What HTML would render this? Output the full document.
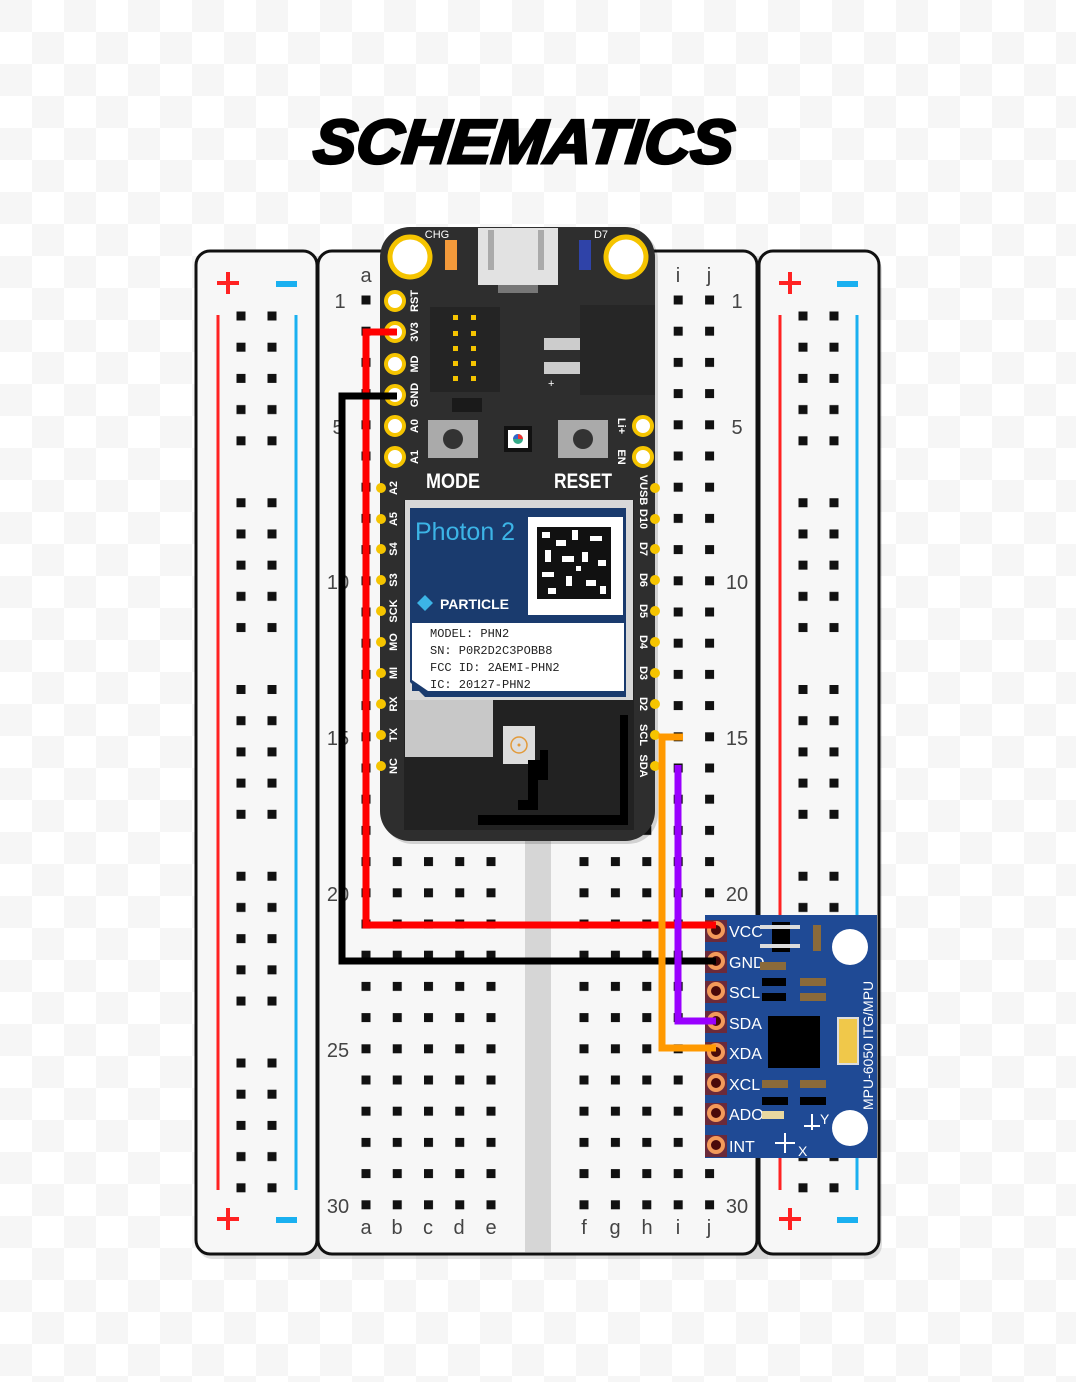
<!DOCTYPE html>
<html><head><meta charset="utf-8"><style>
html,body{margin:0;padding:0;background:#fff}
svg{display:block}
</style></head><body>
<svg width="1076" height="1382" viewBox="0 0 1076 1382" xmlns="http://www.w3.org/2000/svg" font-family="Liberation Sans, sans-serif">
<defs>
<pattern id="chk" x="0" y="0" width="64" height="64" patternUnits="userSpaceOnUse">
<rect width="64" height="64" fill="#ffffff"/><rect width="32" height="32" fill="#f6f6f6"/><rect x="32" y="32" width="32" height="32" fill="#f6f6f6"/>
</pattern>
<pattern id="holeL" x="361.5" y="295.5" width="31.25" height="31.2" patternUnits="userSpaceOnUse"><rect width="9" height="9" fill="#111"/></pattern>
<pattern id="holeR" x="579.5" y="295.5" width="31.4" height="31.2" patternUnits="userSpaceOnUse"><rect width="9" height="9" fill="#111"/></pattern>
<pattern id="rail" x="0" y="311.5" width="400" height="186.75" patternUnits="userSpaceOnUse">
<rect x="0" y="0" width="9" height="9" fill="#111"/><rect x="0" y="31.2" width="9" height="9" fill="#111"/><rect x="0" y="62.4" width="9" height="9" fill="#111"/><rect x="0" y="93.6" width="9" height="9" fill="#111"/><rect x="0" y="124.8" width="9" height="9" fill="#111"/>
</pattern>
</defs>
<rect width="1076" height="1382" fill="url(#chk)"/>

<text x="523" y="163" text-anchor="middle" font-size="62" font-weight="bold" font-style="italic" textLength="420" lengthAdjust="spacingAndGlyphs" stroke="#000" stroke-width="3" fill="#000" transform="skewX(-6) translate(16,0)">SCHEMATICS</text>

<!-- shadows -->
<rect x="198" y="256" width="684" height="1003" rx="14" fill="#000" opacity="0.12"/>
<!-- left rail -->
<rect x="196" y="251" width="121" height="1003" rx="14" fill="#f7f7f7" stroke="#111" stroke-width="3"/>
<rect x="318" y="251" width="439" height="1003" rx="14" fill="#f7f7f7" stroke="#111" stroke-width="3"/>
<rect x="759" y="251" width="120" height="1003" rx="14" fill="#f7f7f7" stroke="#111" stroke-width="3"/>

<!-- rails -->
<line x1="218" y1="315" x2="218" y2="1190" stroke="#f22" stroke-width="3"/>
<line x1="296" y1="315" x2="296" y2="1190" stroke="#1ab0f0" stroke-width="3"/>
<line x1="780" y1="315" x2="780" y2="1190" stroke="#f22" stroke-width="3"/>
<line x1="857" y1="315" x2="857" y2="1190" stroke="#1ab0f0" stroke-width="3"/>
<g stroke-width="4" stroke-linecap="butt">
<path d="M217 283h22M228 272v22" stroke="#f22"/><path d="M217 1219h22M228 1208v22" stroke="#f22"/>
<path d="M276 284h21" stroke="#1ab0f0" stroke-width="6"/><path d="M276 1220h21" stroke="#1ab0f0" stroke-width="6"/>
<path d="M779 283h22M790 272v22" stroke="#f22"/><path d="M779 1219h22M790 1208v22" stroke="#f22"/>
<path d="M837 284h21" stroke="#1ab0f0" stroke-width="6"/><path d="M837 1220h21" stroke="#1ab0f0" stroke-width="6"/>
</g>
<g fill="url(#rail)">
<rect x="237" y="311" width="9" height="885" transform="translate(0,0)"/>
</g>
<g>
<rect x="236.5" y="311.5" width="40" height="885" fill="url(#rail)" style="transform:none"/>
</g>
<!-- rail holes with explicit patterns per column -->
<pattern id="railA" x="236.5" y="311.5" width="31" height="186.75" patternUnits="userSpaceOnUse">
<rect x="0" y="0" width="9" height="9" fill="#111"/><rect x="0" y="31.2" width="9" height="9" fill="#111"/><rect x="0" y="62.4" width="9" height="9" fill="#111"/><rect x="0" y="93.6" width="9" height="9" fill="#111"/><rect x="0" y="124.8" width="9" height="9" fill="#111"/>
</pattern>
<pattern id="railB" x="798.5" y="311.5" width="31" height="186.75" patternUnits="userSpaceOnUse">
<rect x="0" y="0" width="9" height="9" fill="#111"/><rect x="0" y="31.2" width="9" height="9" fill="#111"/><rect x="0" y="62.4" width="9" height="9" fill="#111"/><rect x="0" y="93.6" width="9" height="9" fill="#111"/><rect x="0" y="124.8" width="9" height="9" fill="#111"/>
</pattern>
<rect x="230" y="305" width="60" height="890" fill="#f7f7f7"/>
<line x1="296" y1="315" x2="296" y2="1190" stroke="#1ab0f0" stroke-width="3"/>
<rect x="236.5" y="311.5" width="41" height="885" fill="url(#railA)"/>
<rect x="798.5" y="311.5" width="41" height="885" fill="url(#railB)"/>

<!-- channel -->
<rect x="525" y="253" width="26" height="999" fill="#d6d6d6"/>
<!-- main holes -->
<rect x="361.5" y="295.5" width="135" height="918" fill="url(#holeL)"/>
<rect x="579.5" y="295.5" width="135" height="918" fill="url(#holeR)"/>

<!-- labels -->
<g fill="#444" font-size="20" text-anchor="middle">
<text x="366" y="282">a</text><text x="678" y="282">i</text><text x="709" y="282">j</text>
<text x="340" y="308">1</text><text x="338" y="434">5</text><text x="338" y="589">10</text><text x="338" y="745">15</text><text x="338" y="901">20</text><text x="338" y="1057">25</text><text x="338" y="1213">30</text>
<text x="737" y="308">1</text><text x="737" y="434">5</text><text x="737" y="589">10</text><text x="737" y="745">15</text><text x="737" y="901">20</text><text x="737" y="1213">30</text>
<text x="366" y="1234">a</text><text x="397" y="1234">b</text><text x="428" y="1234">c</text><text x="459" y="1234">d</text><text x="491" y="1234">e</text>
<text x="584" y="1234">f</text><text x="615" y="1234">g</text><text x="647" y="1234">h</text><text x="678" y="1234">i</text><text x="709" y="1234">j</text>
</g>

<!-- Photon board -->
<rect x="383" y="230" width="275" height="614" rx="30" fill="#000" opacity="0.15"/>
<rect x="380" y="227" width="275" height="614" rx="30" fill="#2e2e2e"/>
<rect x="478" y="228" width="80" height="57" fill="#e2e2e2"/>
<rect x="488" y="230" width="6" height="40" fill="#aaa"/><rect x="538" y="230" width="6" height="40" fill="#aaa"/>
<rect x="498" y="285" width="40" height="8" fill="#777"/>
<rect x="445" y="240" width="12" height="30" fill="#f39a3b"/>
<rect x="579" y="240" width="12" height="30" fill="#2f43a8"/>
<text x="437" y="238" fill="#fff" font-size="11" text-anchor="middle">CHG</text>
<text x="601" y="238" fill="#fff" font-size="11" text-anchor="middle">D7</text>
<circle cx="410" cy="257" r="20" fill="#fff" stroke="#f5c400" stroke-width="5"/>
<circle cx="626" cy="257" r="20" fill="#fff" stroke="#f5c400" stroke-width="5"/>
<rect x="430" y="307" width="70" height="85" fill="#242424"/>
<g fill="#f5c400"><rect x="453" y="315" width="5" height="5"/><rect x="471" y="315" width="5" height="5"/><rect x="453" y="331" width="5" height="5"/><rect x="471" y="331" width="5" height="5"/><rect x="453" y="346" width="5" height="5"/><rect x="471" y="346" width="5" height="5"/><rect x="453" y="361" width="5" height="5"/><rect x="471" y="361" width="5" height="5"/><rect x="453" y="376" width="5" height="5"/><rect x="471" y="376" width="5" height="5"/></g>
<rect x="580" y="305" width="75" height="90" fill="#262626"/>
<rect x="544" y="338" width="36" height="12" fill="#ccc"/><rect x="544" y="362" width="36" height="12" fill="#ccc"/>
<text x="548" y="387" fill="#fff" font-size="11">+</text>
<rect x="452" y="398" width="30" height="14" fill="#1a1a1a"/>
<rect x="428" y="420" width="50" height="38" fill="#aaa"/><circle cx="453" cy="439" r="10" fill="#333"/>
<rect x="558" y="420" width="50" height="38" fill="#aaa"/><circle cx="583" cy="439" r="10" fill="#333"/>
<rect x="504" y="426" width="28" height="26" fill="#111"/><rect x="508" y="430" width="20" height="18" fill="#fff"/><circle cx="518" cy="439" r="5" fill="#3a8"/><path d="M518 439 l0 -5 a5 5 0 0 1 5 5z" fill="#e33"/><path d="M518 439 l-5 0 a5 5 0 0 1 5 -5z" fill="#36c"/>
<text x="453" y="488" fill="#fff" font-size="21" font-weight="bold" text-anchor="middle" textLength="54" lengthAdjust="spacingAndGlyphs">MODE</text>
<text x="583" y="488" fill="#fff" font-size="21" font-weight="bold" text-anchor="middle" textLength="58" lengthAdjust="spacingAndGlyphs">RESET</text>

<!-- module -->
<rect x="404" y="500" width="230" height="330" fill="#222"/>
<rect x="405" y="500" width="228" height="200" fill="#d8d8d8"/>
<path d="M410 508 H626 V697 H425 L410 682 Z" fill="#1a3b6e"/>
<rect x="528" y="517" width="95" height="98" fill="#fff"/>
<rect x="537" y="527" width="74" height="72" fill="#111"/>
<g fill="#fff"><rect x="542" y="532" width="8" height="6"/><rect x="556" y="540" width="10" height="6"/><rect x="572" y="530" width="6" height="10"/><rect x="590" y="536" width="12" height="5"/><rect x="545" y="550" width="6" height="12"/><rect x="562" y="556" width="12" height="6"/><rect x="582" y="552" width="6" height="10"/><rect x="598" y="560" width="8" height="6"/><rect x="542" y="572" width="12" height="5"/><rect x="566" y="576" width="6" height="10"/><rect x="586" y="580" width="10" height="6"/><rect x="548" y="588" width="8" height="6"/><rect x="600" y="586" width="6" height="8"/><rect x="576" y="566" width="5" height="5"/></g>
<text x="415" y="540" fill="#3cb4e6" font-size="25">Photon 2</text>
<path d="M425 595 l8 8 -8 8 -8 -8z" fill="#3cb4e6"/>
<text x="440" y="609" fill="#fff" font-size="14" font-weight="bold">PARTICLE</text>
<rect x="412" y="623" width="212" height="68" fill="#fff"/>
<path d="M412 680 L428 691 H412Z" fill="#1a3b6e"/>
<g font-family="Liberation Mono, monospace" font-size="12" fill="#222">
<text x="430" y="637">MODEL: PHN2</text><text x="430" y="654">SN: P0R2D2C3POBB8</text><text x="430" y="671">FCC ID: 2AEMI-PHN2</text><text x="430" y="688">IC: 20127-PHN2</text>
</g>
<rect x="405" y="700" width="88" height="57" fill="#c8c8c8"/>
<rect x="503" y="726" width="32" height="38" fill="#ddd"/><circle cx="519" cy="745" r="8" fill="none" stroke="#e29a3a" stroke-width="1.5"/><circle cx="519" cy="745" r="1.5" fill="#e29a3a"/>
<path d="M528 760 h12 v-10 h8 v30 h-10 v30 h-20 v-10 h10z" fill="#000"/>
<path d="M620 715 h8 v110 h-150 v-10 h142z" fill="#000"/>

<!-- pins -->
<g fill="#fff" stroke="#f5c400" stroke-width="4">
<circle cx="395" cy="301" r="9"/><circle cx="395" cy="332" r="9"/><circle cx="395" cy="364" r="9"/><circle cx="395" cy="395" r="9"/><circle cx="395" cy="426" r="9"/><circle cx="395" cy="457" r="9"/>
<circle cx="643" cy="426" r="9"/><circle cx="643" cy="457" r="9"/>
</g>
<g fill="#f5c400">
<circle cx="381" cy="488" r="5"/><circle cx="381" cy="519" r="5"/><circle cx="381" cy="549" r="5"/><circle cx="381" cy="580" r="5"/><circle cx="381" cy="611" r="5"/><circle cx="381" cy="642" r="5"/><circle cx="381" cy="673" r="5"/><circle cx="381" cy="704" r="5"/><circle cx="381" cy="735" r="5"/><circle cx="381" cy="766" r="5"/>
<circle cx="655" cy="488" r="5"/><circle cx="655" cy="519" r="5"/><circle cx="655" cy="549" r="5"/><circle cx="655" cy="580" r="5"/><circle cx="655" cy="611" r="5"/><circle cx="655" cy="642" r="5"/><circle cx="655" cy="673" r="5"/><circle cx="655" cy="704" r="5"/><circle cx="655" cy="735" r="5"/><circle cx="655" cy="766" r="5"/>
</g>
<g fill="#fff" font-size="11" font-weight="bold" text-anchor="middle">
<text transform="translate(418,301) rotate(-90)">RST</text><text transform="translate(418,332) rotate(-90)">3V3</text><text transform="translate(418,364) rotate(-90)">MD</text><text transform="translate(418,395) rotate(-90)">GND</text><text transform="translate(418,426) rotate(-90)">A0</text><text transform="translate(418,457) rotate(-90)">A1</text>
<text transform="translate(397,488) rotate(-90)">A2</text><text transform="translate(397,519) rotate(-90)">A5</text><text transform="translate(397,549) rotate(-90)">S4</text><text transform="translate(397,580) rotate(-90)">S3</text><text transform="translate(397,611) rotate(-90)">SCK</text><text transform="translate(397,642) rotate(-90)">MO</text><text transform="translate(397,673) rotate(-90)">MI</text><text transform="translate(397,704) rotate(-90)">RX</text><text transform="translate(397,735) rotate(-90)">TX</text><text transform="translate(397,766) rotate(-90)">NC</text>
<text transform="translate(618,426) rotate(90)">Li+</text><text transform="translate(618,457) rotate(90)">EN</text>
<text transform="translate(640,490) rotate(90)">VUSB</text><text transform="translate(640,519) rotate(90)">D10</text><text transform="translate(640,549) rotate(90)">D7</text><text transform="translate(640,580) rotate(90)">D6</text><text transform="translate(640,611) rotate(90)">D5</text><text transform="translate(640,642) rotate(90)">D4</text><text transform="translate(640,673) rotate(90)">D3</text><text transform="translate(640,704) rotate(90)">D2</text><text transform="translate(640,735) rotate(90)">SCL</text><text transform="translate(640,766) rotate(90)">SDA</text>
</g>

<!-- MPU -->
<rect x="705" y="915" width="172" height="243" fill="#1f4a95"/>
<g fill="#e8905a" stroke="#7a2a2a" stroke-width="0">
<rect x="705" y="920" width="22" height="22" fill="#6b2a3a"/><rect x="705" y="951" width="22" height="22" fill="#6b2a3a"/><rect x="705" y="981" width="22" height="22" fill="#6b2a3a"/><rect x="705" y="1011" width="22" height="22" fill="#6b2a3a"/><rect x="705" y="1042" width="22" height="22" fill="#6b2a3a"/><rect x="705" y="1073" width="22" height="22" fill="#6b2a3a"/><rect x="705" y="1103" width="22" height="22" fill="#6b2a3a"/><rect x="705" y="1135" width="22" height="22" fill="#6b2a3a"/>
</g>
<g fill="#4a0a0a" stroke="#f39a5a" stroke-width="4">
<circle cx="716" cy="930" r="7"/><circle cx="716" cy="961" r="7"/><circle cx="716" cy="991" r="7"/><circle cx="716" cy="1021" r="7"/><circle cx="716" cy="1052" r="7"/><circle cx="716" cy="1083" r="7"/><circle cx="716" cy="1113" r="7"/><circle cx="716" cy="1145" r="7"/>
</g>
<g fill="#fff" font-size="16">
<text x="729" y="937">VCC</text><text x="729" y="968">GND</text><text x="729" y="998">SCL</text><text x="729" y="1029">SDA</text><text x="729" y="1059">XDA</text><text x="729" y="1090">XCL</text><text x="729" y="1120">ADO</text><text x="729" y="1152">INT</text>
</g>
<rect x="772" y="922" width="18" height="30" fill="#000"/>
<rect x="760" y="925" width="40" height="4" fill="#ddd"/><rect x="760" y="944" width="40" height="4" fill="#ddd"/>
<rect x="813" y="925" width="8" height="26" fill="#8a6a3a"/>
<rect x="760" y="962" width="26" height="8" fill="#8a6a3a"/>
<rect x="762" y="978" width="24" height="8" fill="#000"/><rect x="762" y="993" width="24" height="8" fill="#000"/>
<rect x="800" y="978" width="26" height="8" fill="#8a6a3a"/><rect x="800" y="993" width="26" height="8" fill="#8a6a3a"/>
<rect x="768" y="1016" width="52" height="52" fill="#000"/>
<rect x="838" y="1018" width="20" height="46" fill="#f0c84a" stroke="#ddd" stroke-width="2"/>
<rect x="762" y="1080" width="26" height="8" fill="#8a6a3a"/><rect x="800" y="1080" width="26" height="8" fill="#8a6a3a"/>
<rect x="762" y="1097" width="26" height="8" fill="#000"/><rect x="800" y="1097" width="26" height="8" fill="#000"/>
<rect x="762" y="1111" width="22" height="8" fill="#e8d8a0"/>
<circle cx="850" cy="947" r="18" fill="#fff"/><circle cx="850" cy="1128" r="18" fill="#fff"/>
<text transform="translate(873,1110) rotate(-90)" fill="#fff" font-size="14">MPU-6050 ITG/MPU</text>
<path d="M775 1143 h20 M785 1133 v20 M812 1130 v-16 M804 1126 h16" stroke="#fff" stroke-width="2" fill="none"/>
<text x="798" y="1156" fill="#fff" font-size="14">X</text><text x="820" y="1124" fill="#fff" font-size="14">Y</text>

<!-- wires -->
<g fill="none" stroke-width="7" stroke-linejoin="miter">
<path d="M397 332 H366 V925 H716" stroke="#ff0000"/>
<path d="M397 396 H342 V961 H716" stroke="#000"/>
<path d="M683 737 H662 V1048 H716" stroke="#ff9900"/>
<path d="M678 765 V1021 H716" stroke="#9900ff"/>
</g>
</svg>
</body></html>
